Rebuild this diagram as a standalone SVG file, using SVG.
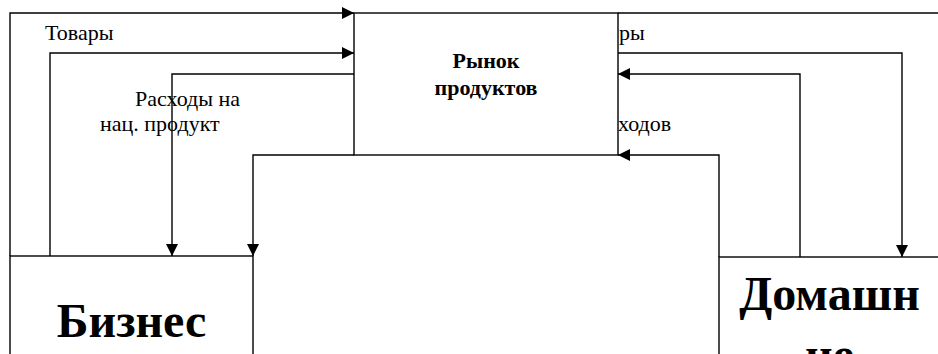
<svg xmlns="http://www.w3.org/2000/svg" width="938" height="354" viewBox="0 0 938 354">
<style>
.ln{fill:none;stroke:#000;stroke-width:1.4}
.box{fill:#fff;stroke:#000;stroke-width:1.4}
.lbl{font-family:"Liberation Serif","Times New Roman",serif;font-size:22px;fill:#000}
.mk{font-family:"Liberation Serif","Times New Roman",serif;font-size:22px;font-weight:bold;fill:#000;text-anchor:middle}
.big{font-family:"Liberation Serif","Times New Roman",serif;font-size:48px;font-weight:bold;fill:#000;text-anchor:middle}
</style>
<defs>
<marker id="ah" markerUnits="userSpaceOnUse" markerWidth="13" markerHeight="13" refX="12" refY="6" orient="auto">
<path d="M0,0 L12,6 L0,12 Z" fill="#000"/>
</marker>
</defs>
<rect width="938" height="354" fill="#fff"/>
<g id="connectors">
<path class="ln" d="M10,256 V13 H354" marker-end="url(#ah)"/>
<path class="ln" d="M618,13 H938"/>
<path class="ln" d="M50,256 V53 H354" marker-end="url(#ah)"/>
<path class="ln" d="M354,74 H172 V256" marker-end="url(#ah)"/>
<path class="ln" d="M354,155 H253 V256" marker-end="url(#ah)"/>
<path class="ln" d="M618,53 H902 V257" marker-end="url(#ah)"/>
<path class="ln" d="M800,257 V74 H618" marker-end="url(#ah)"/>
<path class="ln" d="M719,257 V155 H618" marker-end="url(#ah)"/>
<text class="lbl" x="45" y="40">Товары</text>
<text class="lbl" x="135" y="106">Расходы на</text>
<text class="lbl" x="100" y="131">нац. продукт</text>
<text class="lbl" x="619" y="40">ры</text>
<text class="lbl" x="618" y="131">ходов</text>
</g>
<g id="market">
<rect class="box" x="354" y="13" width="264" height="142"/>
<text class="mk" x="486" y="68">Рынок</text>
<text class="mk" x="486" y="95">продуктов</text>
</g>
<g id="business">
<rect class="box" x="10" y="256" width="243" height="110"/>
<text class="big" x="131.5" y="337">Бизнес</text>
</g>
<g id="households">
<rect class="box" x="719" y="257" width="222" height="110"/>
<text class="big" x="829.5" y="310">Домашн</text>
<text class="big" x="829.5" y="371">ие</text>
</g>
</svg>
